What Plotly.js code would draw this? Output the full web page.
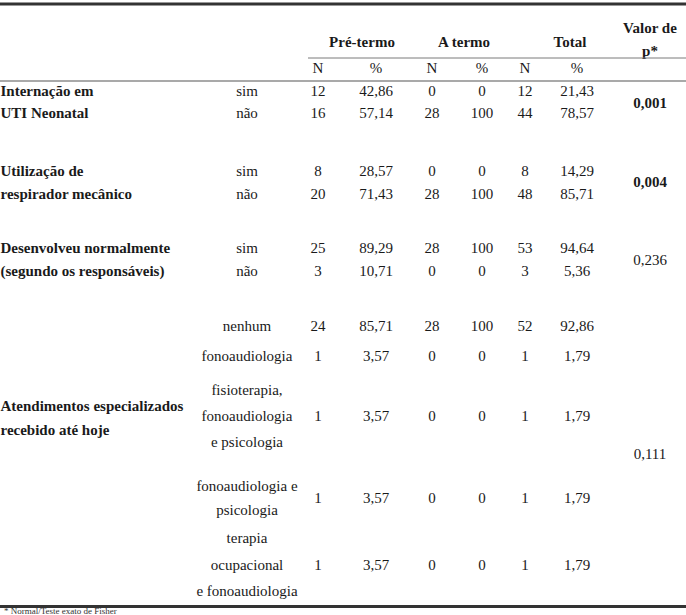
<!DOCTYPE html>
<html>
<head>
<meta charset="utf-8">
<script src="https://cdn.plot.ly/plotly-3.0.1.min.js"></script>
<style>html,body{margin:0;padding:0;background:#fff;}#chart{width:686px;height:615px;}</style>
</head>
<body>
<div id="chart"></div>
<script>
// ---------- DATA ----------
const groups = ["Pré-termo", "A termo", "Total"];
const subCols = ["N", "%", "N", "%", "N", "%"];
const pHeader = ["Valor de", "p*"];

const variables = [
  ["Internação em", "UTI Neonatal"],
  ["Utilização de", "respirador mecânico"],
  ["Desenvolveu normalmente", "(segundo os responsáveis)"],
  ["Atendimentos especializados", "recebido até hoje"]
];

const categories = [
  ["sim"], ["não"],
  ["sim"], ["não"],
  ["sim"], ["não"],
  ["nenhum"],
  ["fonoaudiologia"],
  ["fisioterapia,", "fonoaudiologia", "e psicologia"],
  ["fonoaudiologia e", "psicologia"],
  ["terapia", "ocupacional", "e fonoaudiologia"]
];

const preN     = [12, 16, 8, 20, 25, 3, 24, 1, 1, 1, 1];
const prePct   = [42.86, 57.14, 28.57, 71.43, 89.29, 10.71, 85.71, 3.57, 3.57, 3.57, 3.57];
const termN    = [0, 28, 0, 28, 28, 0, 28, 0, 0, 0, 0];
const termPct  = [0, 100, 0, 100, 100, 0, 100, 0, 0, 0, 0];
const totalN   = [12, 44, 8, 48, 53, 3, 52, 1, 1, 1, 1];
const totalPct = [21.43, 78.57, 14.29, 85.71, 94.64, 5.36, 92.86, 1.79, 1.79, 1.79, 1.79];

const pValues  = ["0,001", "0,004", "0,236", "0,111"];
const pSignif  = [true, true, false, false];

const footnote = "* Normal/Teste exato de Fisher";

// ---------- LAYOUT (positions in pixel-like axis units) ----------
const W = 686, H = 615;
const FONT = '"Liberation Serif", "Times New Roman", serif';
const FS = 15;
const INK = "#1a1a1a";

const rowY = [92, 114, 172, 195, 249, 272, 327, 357, 417, 499, 566];
const catLineGap = [0, 0, 0, 0, 0, 0, 0, 0, 26, 24, 26.5];
const varY = [[92, 114], [172, 195], [249, 272], [407, 431]];
const pY = [104, 183, 261, 455];

const colX = [318, 376, 432, 482, 525, 577];
const groupX = [362, 464, 570];
const catX = 247;
const varX = 0.5;
const pX = 650;

function fmt(v) {
  return Number.isInteger(v) ? String(v) : v.toFixed(2).replace(".", ",");
}

const traces = [];
function textTrace(xs, ys, texts, pos, extra) {
  traces.push(Object.assign({
    type: "scatter", mode: "text", x: xs, y: ys, text: texts,
    textposition: pos || "middle center",
    textfont: {family: FONT, size: FS, color: INK},
    cliponaxis: false, hoverinfo: "skip", showlegend: false
  }, extra || {}));
}

// group headers
textTrace(groupX, groups.map(() => 43), groups.map(g => "<b>" + g + "</b>"));
// p header
textTrace(pHeader.map(() => pX), [29, 52], pHeader.map(t => "<b>" + t + "</b>"));
// sub columns
textTrace(colX, subCols.map(() => 69), subCols);

// variable labels (left aligned)
{
  const xs = [], ys = [], ts = [];
  variables.forEach((lines, i) => lines.forEach((t, j) => {
    xs.push(varX); ys.push(varY[i][j]); ts.push("<b>" + t + "</b>");
  }));
  textTrace(xs, ys, ts, "middle right");
}

// category labels
{
  const xs = [], ys = [], ts = [];
  categories.forEach((lines, i) => {
    const n = lines.length;
    lines.forEach((t, j) => {
      xs.push(catX);
      ys.push(rowY[i] + (j - (n - 1) / 2) * catLineGap[i]);
      ts.push(t);
    });
  });
  textTrace(xs, ys, ts);
}

// numeric cells
[preN, prePct, termN, termPct, totalN, totalPct].forEach((arr, c) => {
  textTrace(arr.map(() => colX[c]), rowY, arr.map(fmt));
});

// p-values
textTrace(pValues.map(() => pX), pY, pValues.map((p, i) => pSignif[i] ? "<b>" + p + "</b>" : p));

// footnote (small, just under the bottom rule)
textTrace([4], [611.8], [footnote], "middle right", {textfont: {family: FONT, size: 9, color: "#333"}});

const shapes = [
  {type: "line", xref: "x", yref: "y", x0: 0, x1: W, y0: 4, y1: 4, line: {color: "#333", width: 3}},
  {type: "line", xref: "x", yref: "y", x0: 308, x1: W, y0: 58, y1: 58, line: {color: "#7a7a7a", width: 1}},
  {type: "line", xref: "x", yref: "y", x0: 0, x1: W, y0: 81, y1: 81, line: {color: "#555", width: 1.2}},
  {type: "line", xref: "x", yref: "y", x0: 0, x1: W, y0: 606.5, y1: 606.5, line: {color: "#333", width: 3}}
];

const layout = {
  width: W, height: H,
  margin: {l: 0, r: 0, t: 0, b: 0},
  paper_bgcolor: "#fff", plot_bgcolor: "#fff",
  xaxis: {range: [0, W], visible: false, fixedrange: true},
  yaxis: {range: [H, 0], visible: false, fixedrange: true},
  shapes: shapes,
  showlegend: false,
  hovermode: false
};

Plotly.newPlot("chart", traces, layout, {staticPlot: true, displayModeBar: false});
</script>
</body>
</html>
